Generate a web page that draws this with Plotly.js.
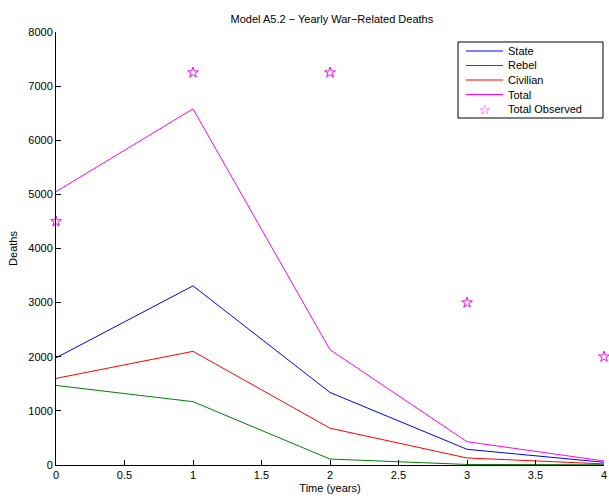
<!DOCTYPE html>
<html><head><meta charset="utf-8">
<script src="https://cdn.plot.ly/plotly-3.0.1.min.js"></script>
<style>html,body{margin:0;padding:0;background:#fff}#c{width:609px;height:504px}</style>
</head><body><div id="c"></div>
<script>
const years = [0, 1, 2, 3, 4];
const state = [1980, 3310, 1340, 290, 50];
const rebel = [1470, 1170, 110, 10, 5];
const civilian = [1600, 2100, 680, 130, 20];
const total = [5050, 6580, 2130, 430, 75];
const totalObserved = [4500, 7250, 7250, 3000, 2000];
const seriesNames = ['State', 'Rebel', 'Civilian', 'Total', 'Total Observed'];
const xTicks = [0, 0.5, 1, 1.5, 2, 2.5, 3, 3.5, 4];
const yTicks = [0, 1000, 2000, 3000, 4000, 5000, 6000, 7000, 8000];

const colors = ['#0000ff', '#008000', '#ff0000', '#ff00ff', '#ff00ff'];
const font = {family: 'Liberation Sans, Arial, sans-serif', size: 11, color: '#000'};
const lineSeries = [state, rebel, civilian, total];
const traces = lineSeries.map((s, i) => ({x: years, y: s, name: seriesNames[i], mode: 'lines', line: {color: colors[i], width: 1}}));
traces.push({x: years, y: totalObserved, name: seriesNames[4], mode: 'markers', cliponaxis: false,
  marker: {symbol: 'star-open', color: colors[4], size: 8, line: {color: colors[4], width: 1}}});

// plot area in pixels (for the hand-built MATLAB-style legend)
const W = 609, H = 504, L = 56, R = 5, T = 32, B = 39;
const px = v => (v - L) / (W - L - R);
const py = v => (H - B - v) / (H - T - B);

const shapes = [{type: 'rect', xref: 'paper', yref: 'paper', x0: px(458), x1: px(603), y0: py(42), y1: py(118),
  line: {color: '#000', width: 1}, fillcolor: '#fff', layer: 'above'}];
const annotations = [];
const rowY = [51, 65.5, 80, 94.5, 109];
seriesNames.forEach((n, i) => {
  if (i < 4) {
    shapes.push({type: 'line', xref: 'paper', yref: 'paper', x0: px(466), x1: px(503), y0: py(rowY[i]), y1: py(rowY[i]),
      line: {color: colors[i], width: 1.2}, layer: 'above'});
  } else {
    annotations.push({xref: 'paper', yref: 'paper', x: px(485), y: py(rowY[i]), text: '\u2606', showarrow: false,
      xanchor: 'center', yanchor: 'middle', font: {family: 'DejaVu Sans', size: 13, color: colors[i]}});
  }
  annotations.push({xref: 'paper', yref: 'paper', x: px(506), y: py(rowY[i]), text: n, showarrow: false,
    xanchor: 'left', yanchor: 'middle', font: font});
});

const layout = {
  width: W, height: H,
  margin: {l: L, r: R, t: T, b: B},
  paper_bgcolor: '#fff', plot_bgcolor: '#fff',
  font: font, showlegend: false,
  title: {text: 'Model A5.2 \u2212 Yearly War\u2212Related Deaths', font: {family: font.family, size: 11, color: '#000'}, x: 0.545, xanchor: 'center', y: 0.962, yanchor: 'middle'},
  xaxis: {range: [0, 4], tickvals: xTicks, ticktext: xTicks.map(String), ticks: 'inside', ticklen: 5, tickcolor: '#000',
    showgrid: false, zeroline: false, showline: true, linecolor: '#000', linewidth: 1, mirror: false,
    title: {text: 'Time (years)', font: font, standoff: 4}, tickfont: font},
  yaxis: {range: [0, 8000], tickvals: yTicks, ticktext: yTicks.map(String), ticks: 'inside', ticklen: 5, tickcolor: '#000',
    showgrid: false, zeroline: false, showline: true, linecolor: '#000', linewidth: 1, mirror: false,
    title: {text: 'Deaths', font: font, standoff: 8}, tickfont: font},
  shapes: shapes, annotations: annotations
};
Plotly.newPlot('c', traces, layout, {displayModeBar: false, staticPlot: true});
</script></body></html>
